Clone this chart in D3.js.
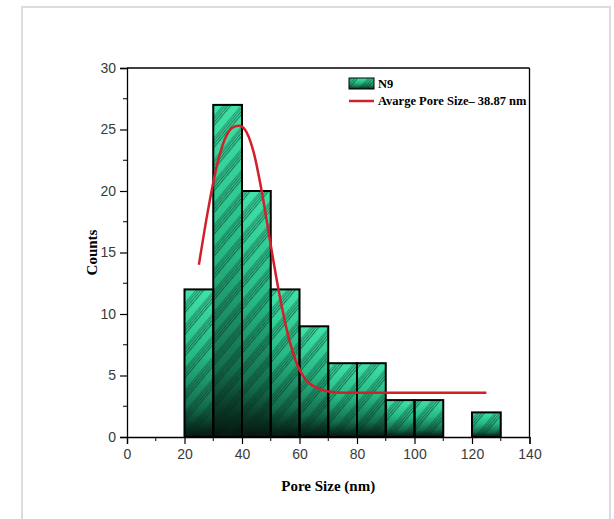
<!DOCTYPE html>
<html>
<head>
<meta charset="utf-8">
<script src="https://cdn.jsdelivr.net/npm/d3@7"></script>
<style>
body{margin:0;background:#fff;}
svg{display:block;}
</style>
</head>
<body>
<svg id="chart"></svg>
<script>
// histogram bins (nm) and counts
var binStart=[20,30,40,50,60,70,80,90,100,120];
var binEnd=[30,40,50,60,70,80,90,100,110,130];
var counts=[12,27,20,12,9,6,6,3,3,2];
// fitted curve points
var fitX=[25,28,31,34,37,39,41,44,47,50,53,56,59,62,66,70,75,90,125];
var fitY=[14,18.2,21.8,24.2,25.2,25.3,25,23.2,19.8,15.6,11.6,8.3,6,4.7,4,3.7,3.6,3.6,3.6];
var xTicks=[0,20,40,60,80,100,120,140];
var yTicks=[0,5,10,15,20,25,30];
var legendLabels=["N9","Avarge Pore Size\u2013 38.87 nm"];

var W=614,H=519;
var margin={left:127,right:85,top:68,bottom:82};
var svg=d3.select("#chart").attr("width",W).attr("height",H);

// outer light frame
svg.append("rect").attr("x",22).attr("y",7).attr("width",588).attr("height",520)
   .attr("fill","none").attr("stroke","#dcdcdc").attr("stroke-width",2);

var xScale=d3.scaleLinear().domain([0,140]).range([margin.left,W-margin.right+0.5]);
var yScale=d3.scaleLinear().domain([0,30]).range([H-margin.bottom,margin.top]);

var defs=svg.append("defs");
var grad=defs.append("linearGradient").attr("id","barGrad")
   .attr("x1",0).attr("y1",0).attr("x2",0).attr("y2",1);
grad.append("stop").attr("offset","0%").attr("stop-color","#3fe3a8");
grad.append("stop").attr("offset","45%").attr("stop-color","#26b984");
grad.append("stop").attr("offset","80%").attr("stop-color","#136c4c");
grad.append("stop").attr("offset","100%").attr("stop-color","#04140d");

// banded diagonal hatch
var pat=defs.append("pattern").attr("id","hatch").attr("patternUnits","userSpaceOnUse")
   .attr("width",14).attr("height",14).attr("patternTransform","rotate(40)");
[0,2.2,4.4,6.6].forEach(function(p){
  pat.append("line").attr("x1",p).attr("y1",0).attr("x2",p).attr("y2",14)
     .attr("stroke","#06261a").attr("stroke-width",0.9).attr("stroke-opacity",0.65);
});

// bars
var bins=counts.map(function(c,i){return {x0:binStart[i],x1:binEnd[i],n:c};});
svg.selectAll("rect.bar").data(bins).enter().append("rect").classed("bar",true)
   .attr("x",function(d){return xScale(d.x0);})
   .attr("y",function(d){return yScale(d.n);})
   .attr("width",function(d){return xScale(d.x1)-xScale(d.x0);})
   .attr("height",function(d){return yScale(0)-yScale(d.n);})
   .attr("fill","url(#barGrad)");
svg.selectAll("rect.hatch").data(bins).enter().append("rect").classed("hatch",true)
   .attr("x",function(d){return xScale(d.x0);})
   .attr("y",function(d){return yScale(d.n);})
   .attr("width",function(d){return xScale(d.x1)-xScale(d.x0);})
   .attr("height",function(d){return yScale(0)-yScale(d.n);})
   .attr("fill","url(#hatch)")
   .attr("stroke","#000").attr("stroke-width",2);

// fit curve
var pts=fitX.map(function(x,i){return [x,fitY[i]];});
var line=d3.line().x(function(d){return xScale(d[0]);}).y(function(d){return yScale(d[1]);})
   .curve(d3.curveMonotoneX);
svg.append("path").datum(pts).attr("d",line).attr("fill","none")
   .attr("stroke","#d0202a").attr("stroke-width",2.5);

// frame top/right
svg.append("line").attr("x1",xScale(0)).attr("x2",xScale(140)).attr("y1",yScale(30)).attr("y2",yScale(30))
   .attr("stroke","#000").attr("stroke-width",1.3);
svg.append("line").attr("x1",xScale(140)).attr("x2",xScale(140)).attr("y1",yScale(30)).attr("y2",yScale(0))
   .attr("stroke","#000").attr("stroke-width",1.3);

// axes
var xAxis=d3.axisBottom(xScale).tickValues(xTicks).tickSize(7).tickPadding(5);
var yAxis=d3.axisLeft(yScale).tickValues(yTicks).tickSize(7).tickPadding(4);
var gx=svg.append("g").attr("transform","translate(0,"+yScale(0)+")").call(xAxis);
var gy=svg.append("g").attr("transform","translate("+xScale(0)+",0)").call(yAxis);
// minor ticks
var xMinor=d3.range(10,140,20);
var yMinor=d3.range(2.5,30,5);
gx.selectAll("line.minor").data(xMinor).enter().append("line").classed("minor",true)
  .attr("x1",function(d){return xScale(d);}).attr("x2",function(d){return xScale(d);})
  .attr("y1",0).attr("y2",4).attr("stroke","#000");
gy.selectAll("line.minor").data(yMinor).enter().append("line").classed("minor",true)
  .attr("y1",function(d){return yScale(d);}).attr("y2",function(d){return yScale(d);})
  .attr("x1",0).attr("x2",-4).attr("stroke","#000");
[gx,gy].forEach(function(g){
  g.select(".domain").attr("stroke","#000").attr("stroke-width",1.3);
  g.selectAll(".tick line").attr("stroke","#000").attr("stroke-width",1.2);
  g.selectAll(".tick text").attr("font-family","Liberation Sans, Arial, sans-serif")
   .attr("font-size",14).attr("fill","#3a3a3a");
});

// axis titles
svg.append("text").attr("x",(xScale(0)+xScale(140))/2).attr("y",491)
   .attr("text-anchor","middle").attr("font-family","Liberation Serif, Times New Roman, serif")
   .attr("font-weight","bold").attr("font-size",15).text("Pore Size (nm)");
svg.append("text").attr("transform","translate(97,"+yScale(15)+") rotate(-90)")
   .attr("text-anchor","middle").attr("font-family","Liberation Serif, Times New Roman, serif")
   .attr("font-weight","bold").attr("font-size",15).text("Counts");

// legend
var lg=svg.append("g").attr("transform","translate(349,78)");
lg.append("rect").attr("x",0).attr("y",0).attr("width",25).attr("height",11)
  .attr("fill","url(#barGrad)").attr("stroke","#000").attr("stroke-width",1);
lg.append("rect").attr("x",0).attr("y",0).attr("width",25).attr("height",11)
  .attr("fill","url(#hatch)");
lg.append("line").attr("x1",0).attr("x2",25).attr("y1",23).attr("y2",23)
  .attr("stroke","#d0202a").attr("stroke-width",2.5);
lg.selectAll("text").data(legendLabels).enter().append("text")
  .attr("x",29).attr("y",function(d,i){return 10+i*17;})
  .attr("font-family","Liberation Serif, Times New Roman, serif").attr("font-weight","bold")
  .attr("font-size",12.5).text(function(d){return d;});
</script>
</body>
</html>
